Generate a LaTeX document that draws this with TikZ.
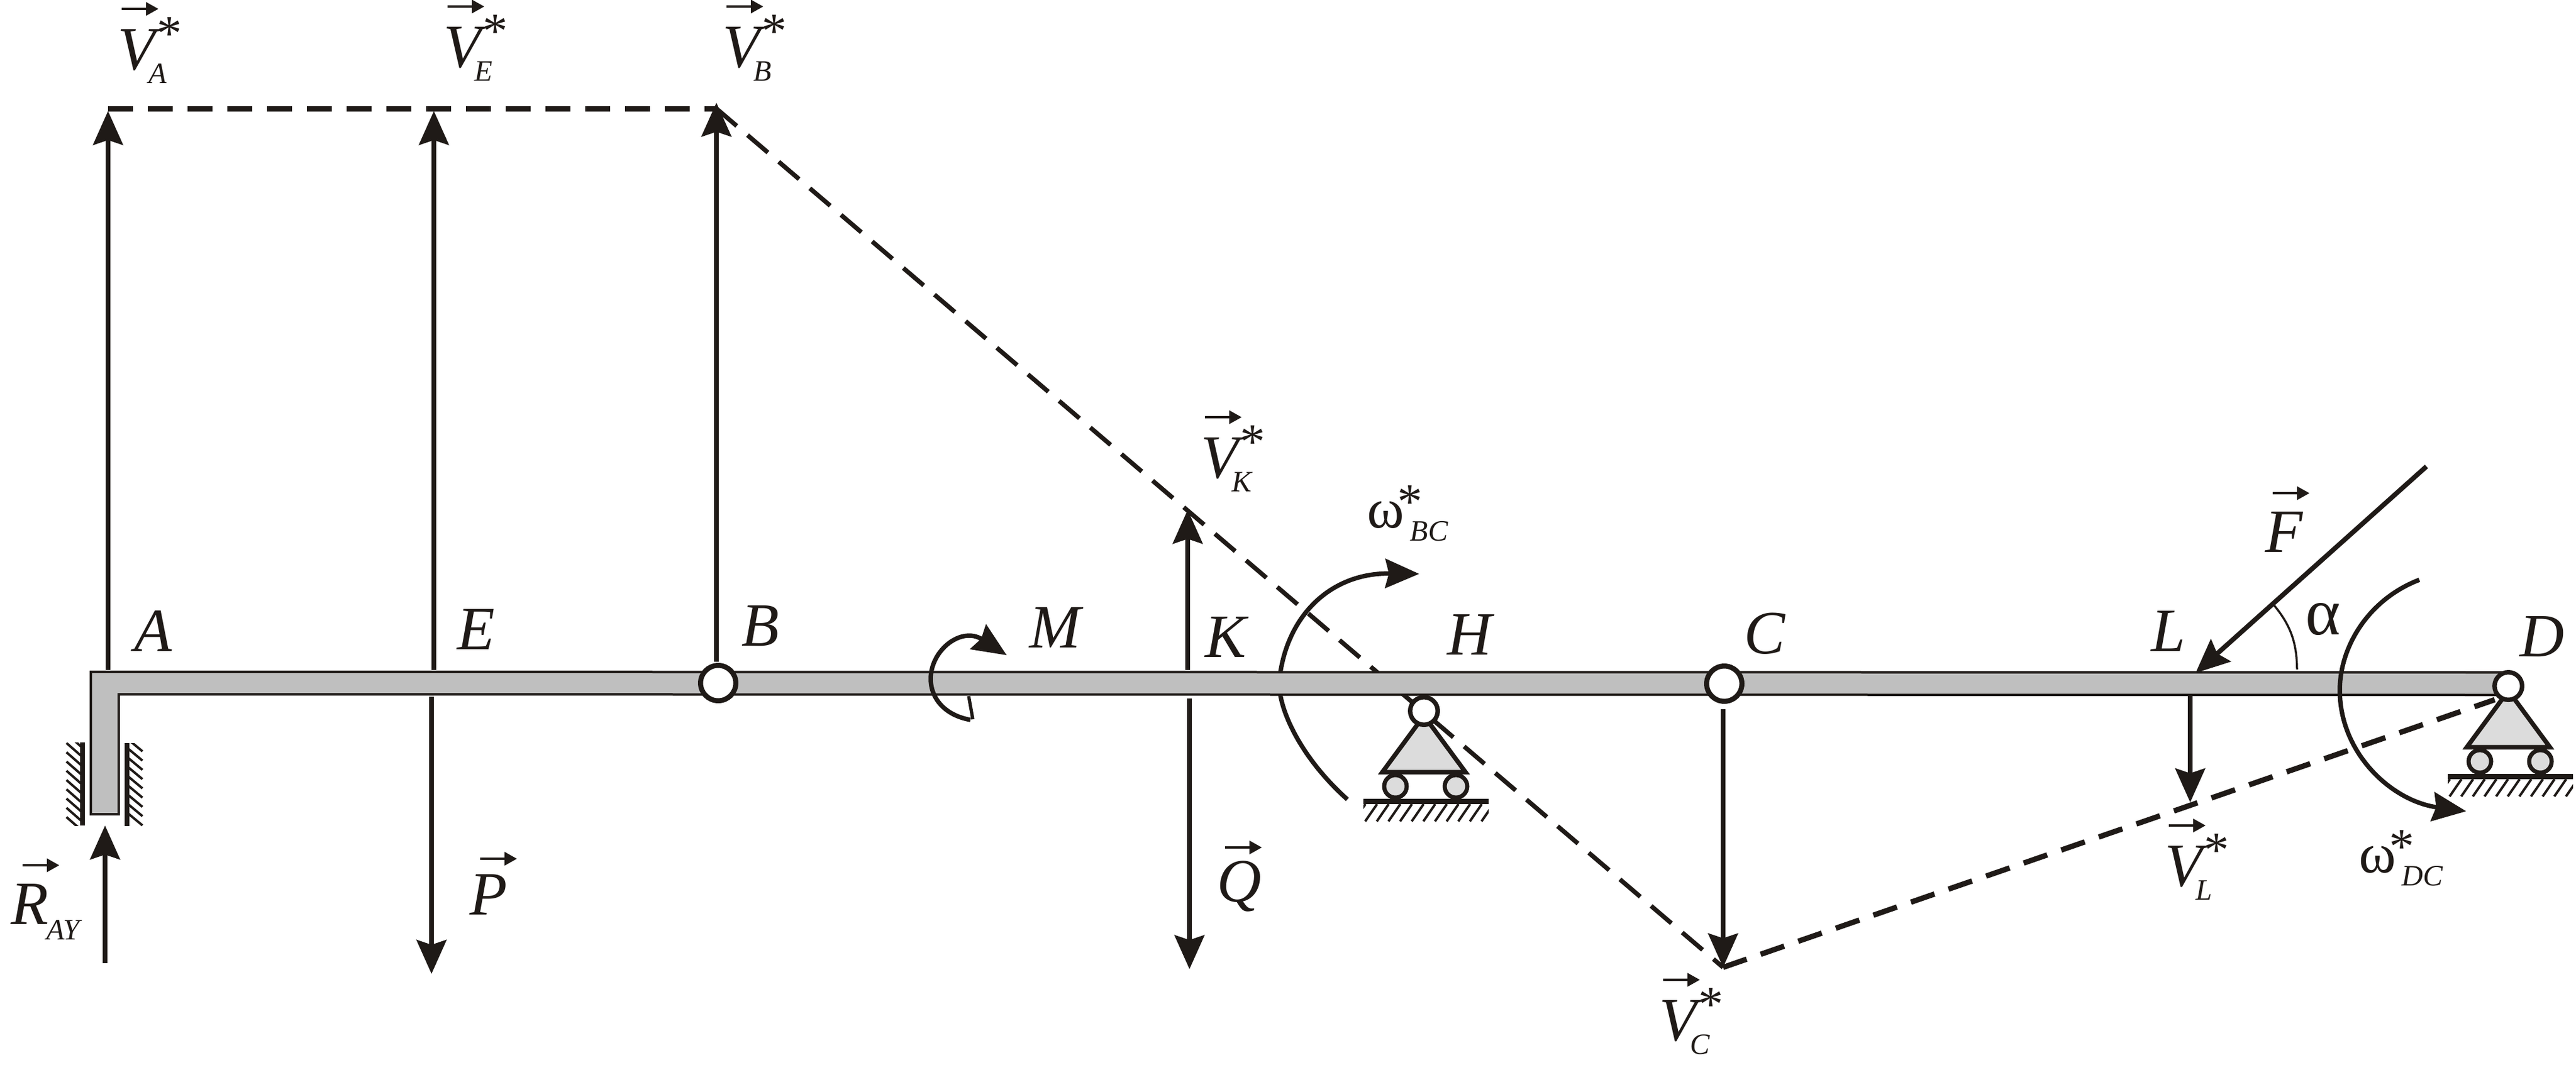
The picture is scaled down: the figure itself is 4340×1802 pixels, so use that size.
\documentclass[tikz,border=0pt]{standalone}
\usepackage{fontspec}
\setmainfont{Liberation Serif}
\usetikzlibrary{arrows.meta}
\definecolor{ink}{HTML}{1F1A17}
\definecolor{beamgray}{HTML}{BFBFBF}
\definecolor{basegray}{HTML}{DCDCDC}
\tikzset{
	lab/.style={inner sep=0, anchor=base west, text=ink, font=\fontsize{29.5}{30}\selectfont\itshape}
	,greek/.style={inner sep=0, anchor=base west, text=ink, font=\fontsize{32}{32}\selectfont}
	,omegalab/.style={inner sep=0, anchor=base west, text=ink, font=\fontsize{27}{27}\selectfont}
	,sublab/.style={inner sep=0, anchor=base west, text=ink, font=\fontsize{14.2}{15}\selectfont\itshape}
	,starlab/.style={inner sep=0, anchor=center, text=ink, font=\fontsize{24}{24}\selectfont}
	,vec/.style={draw=ink, line width=.8mm, -{Stealth[length=5.7mm,width=5mm,inset=.8mm]}}
	,moment/.style={draw=ink, line width=.75mm, -{Stealth[length=5.7mm,width=4.9mm,inset=.6mm]}}
	,overarrow/.style={draw=ink, line width=.45mm, -{Triangle[length=2.1mm,width=2.2mm]}}
	,dashA/.style={draw=ink, line width=.9mm, dash pattern=on 4.2mm off 2.5mm}
	,dashB/.style={draw=ink, line width=.75mm, dash pattern=on 4.5mm off 2.4mm}
	,hatch/.style={draw=ink, line width=.4mm}
	,wall/.style={draw=ink, line width=.85mm}
	,pin/.style={draw=ink, circle, fill=white, inner sep=0, line width=.75mm, minimum size=4.65mm}
	,hinge/.style={draw=ink, circle, fill=white, inner sep=0, line width=.85mm, minimum size=5.95mm}
	,roller/.style={draw=ink, circle, fill=basegray, inner sep=0, line width=.7mm, minimum size=3.8mm}
}
\newcommand{\vectorlabel}[5]{
	\node[lab] (#1) at (#2-6,#3) {#4};
	\node[sublab] (#1sub) at ([shift={(52,23)}]#1.base west) {#5};
	\node[starlab] (#1star) at ([shift={(88,-60)}]#1.base west) {*};
	\draw[overarrow] ([shift={(7,-102)}]#1.base west) -- ++(62,0);
}
\newcommand{\omegalabel}[4]{
	\node[omegalab] (#1) at (#2,#3) {ω};
	\node[sublab] (#1sub) at ([shift={(72,22)}]#1.base west) {#4};
	\node[starlab] (#1star) at ([shift={(73,-43)}]#1.base west) {*};
}
\newcommand{\rollersupport}[3]{
	\begin{scope}[shift={(#2,#3)}]
		\draw[draw=ink, fill=basegray, line width=.75mm] (0,8) -- (70,103) -- (-70,103) -- cycle;
		\node[roller] (#1left) at (-48,127) {};
		\node[roller] (#1right) at (54,127) {};
		\draw[draw=ink, line width=.9mm] (-102,152) -- (109,152);
		\begin{scope}
			\clip (-102,150) rectangle (109,190);
			\foreach \i in {-1,...,10}
				\draw[hatch] ({19.6*\i-99},186) -- ++(20,-29);
		\end{scope}
	\end{scope}
}
\begin{document}
\begin{tikzpicture}[x=.1mm, y=-.1mm]
	\useasboundingbox (0,0) rectangle (4340,1802);

	\coordinate (Atop) at (182,183);
	\coordinate (Btop) at (1207,183);
	\coordinate (Cend) at (2903,1630);
	\coordinate (Dend) at (4203,1179);

	\draw[dashA] (Atop) -- (Btop);
	\draw[dashB] (Btop) -- (Cend);
	\draw[dashA] (Cend) -- (Dend);

	\draw[moment] (2270,1347) .. controls (2195,1280) and (2155,1200) .. (2155,1150) .. controls (2165,1040) and (2240,965) .. (2391,967);

	\rollersupport{H}{2399}{1198}
	\rollersupport{D}{4226}{1156}

	\draw[draw=ink, fill=beamgray, line width=.4mm] (153,1132) -- (4226,1133) -- (4226,1171) -- (200,1170) -- (200,1372) -- (153,1372) -- cycle;

	\draw[wall] (139,1251) -- (139,1391);
	\draw[wall] (214,1252) -- (214,1392);
	\begin{scope}
		\clip (105,1251) rectangle (135,1391);
		\foreach \i in {-1,...,8}
			\draw[hatch] (112,1252+15.6*\i) -- ++(24,21);
	\end{scope}
	\begin{scope}
		\clip (217,1252) rectangle (245,1392);
		\foreach \i in {0,...,8}
			\draw[hatch] (240,1266+15.6*\i) -- ++(-24,-20);
	\end{scope}

	\node[hinge] (B) at (1210,1151) {};
	\node[hinge] (C) at (2905,1152) {};
	\node[pin] (H) at (2399,1198) {};
	\node[pin] (D) at (4226,1156) {};

	\coordinate (Rtail) at (177,1623);
	\coordinate (Rtip) at (177,1391);
	\coordinate (Ebase) at (731,1129);
	\coordinate (Etip) at (731,187);
	\coordinate (Abase) at (182,1129);
	\coordinate (Atip) at (182,187);
	\coordinate (Bbase) at (1207,1115);
	\coordinate (Btip) at (1207,173);
	\coordinate (Pbase) at (727,1174);
	\coordinate (Ptip) at (727,1641);
	\coordinate (Kbase) at (2001,1129);
	\coordinate (Ktip) at (2001,859);
	\coordinate (Qbase) at (2004,1177);
	\coordinate (Qtip) at (2004,1633);
	\coordinate (Cbase) at (2903,1195);
	\coordinate (Lbase) at (3690,1171);
	\coordinate (Ltip) at (3690,1352);
	\coordinate (Fstart) at (4088,786);
	\coordinate (Ftip) at (3699,1134);
	\coordinate (alphatop) at (3828,1016);
	\coordinate (alphabot) at (3870,1128);

	\draw[vec] (Rtail) -- (Rtip);
	\draw[vec] (Abase) -- (Atip);
	\draw[vec] (Ebase) -- (Etip);
	\draw[vec] (Bbase) -- (Btip);
	\draw[vec] (Pbase) -- (Ptip);
	\draw[vec] (Kbase) -- (Ktip);
	\draw[vec] (Qbase) -- (Qtip);
	\draw[vec] (Cbase) -- (Cend);
	\draw[vec] (Lbase) -- (Ltip);
	\draw[vec] (Fstart) -- (Ftip);
	\draw[draw=ink, line width=.35mm] (alphatop) to[bend left=20] (alphabot);

	\draw[moment] (1635,1213) .. controls (1590,1205) and (1568,1175) .. (1568,1144) .. controls (1568,1095) and (1620,1055) .. (1696,1104);
	\draw[draw=ink, line width=.55mm] (1632,1173) -- (1639,1212);
	\draw[moment] (4076,977) .. controls (3990,1010) and (3942,1090) .. (3942,1163) .. controls (3942,1270) and (4030,1350) .. (4155,1367);

	\node[lab] (labA) at (226,1097) {A};
	\node[lab] (labE) at (770,1094) {E};
	\node[lab] (labB) at (1249,1088) {B};
	\node[lab] (labM) at (1734,1091) {M};
	\node[lab] (labK) at (2030,1107) {K};
	\node[lab] (labH) at (2438,1103) {H};
	\node[lab] (labC) at (2938,1101) {C};
	\node[lab] (labL) at (3624,1097) {L};
	\node[lab] (labD) at (4245,1106) {D};
	\node[greek] (labalpha) at (3884,1069) {α};

	\vectorlabel{VA}{204}{117}{V}{A}
	\vectorlabel{VE}{753}{113}{V}{E}
	\vectorlabel{VB}{1223}{113}{V}{B}
	\vectorlabel{VK}{2029}{805}{V}{K}
	\vectorlabel{VC}{2801}{1753}{V}{C}
	\vectorlabel{VL}{3653}{1493}{V}{L}

	\omegalabel{wBC}{2303}{889}{BC}
	\omegalabel{wDC}{3974}{1470}{DC}

	\node[lab] (labR) at (18,1557) {R};
	\node[sublab] (labRsub) at (78,1583) {AY};
	\draw[overarrow] ([shift={(20,-99)}]labR.base west) -- ++(62,0);
	\node[lab] (labP) at (791,1541) {P};
	\draw[overarrow] ([shift={(18,-94)}]labP.base west) -- ++(62,0);
	\node[lab] (labQ) at (2050,1519) {Q};
	\draw[overarrow] ([shift={(14,-91)}]labQ.base west) -- ++(62,0);
	\node[lab] (labF) at (3816,930) {F};
	\draw[overarrow] ([shift={(13,-99)}]labF.base west) -- ++(62,0);
\end{tikzpicture}
\end{document}
